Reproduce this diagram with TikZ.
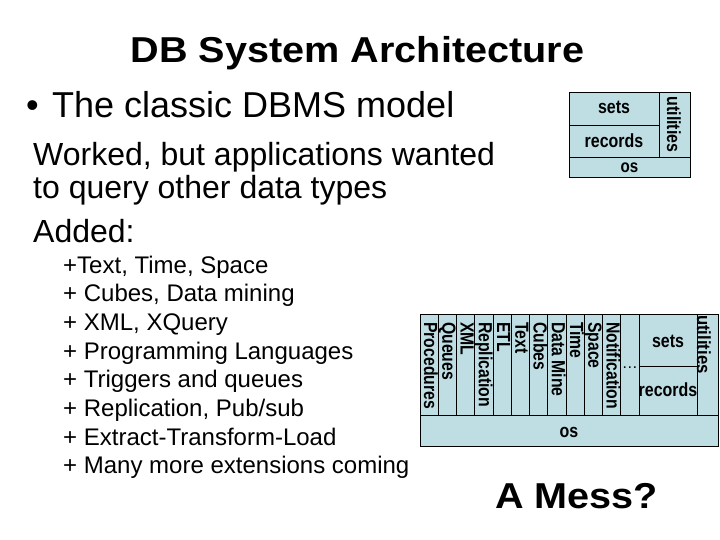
\documentclass[tikz,border=0pt]{standalone}
\usepackage{fontspec}
\setmainfont{Liberation Sans}
\usepackage{tikz}
\usetikzlibrary{positioning}
\definecolor{layerblue}{RGB}{190,222,228}
\newcommand{\narrowtext}[2][0.84]{\scalebox{#1}[1]{#2}}
\newcommand{\widetext}[1]{\scalebox{1.1}[1]{#1}}

\begin{document}
\begin{tikzpicture}[x=1pt,y=-1pt,
  layer/.style={draw=black,line width=0.9pt,fill=layerblue},
  boxlabel/.style={font=\fontsize{19}{22}\selectfont\bfseries,inner sep=0pt},
  extlabel/.style={font=\fontsize{19}{22}\selectfont\bfseries,inner sep=0pt,rotate=-90,anchor=base west},
  slide/.style={anchor=base west,inner sep=0pt}]
\useasboundingbox[fill=white] (0,0) rectangle (720,540);
% headline and text
\node[anchor=base,inner sep=0pt,font=\fontsize{36}{40}\selectfont\bfseries] (title) at (357.5,62.5) {\widetext{DB System Architecture}};
\node[slide,font=\fontsize{36}{40}\selectfont] (bullet) at (26,118) {\textbullet};
\node[slide,font=\fontsize{36}{40}\selectfont] (classic) at (52,118) {The classic DBMS model};
\node[slide,font=\fontsize{32}{36}\selectfont] (worked) at (33,166) {Worked, but applications wanted};
\node[slide,font=\fontsize{32}{36}\selectfont] (query) at (33,199) {to query other data types};
\node[slide,font=\fontsize{32}{36}\selectfont] (added) at (33,242) {Added:};
\foreach \item [count=\i from 0] in {{+Text, Time, Space},{+ Cubes, Data mining},{+ XML, XQuery},{+ Programming Languages},{+ Triggers and queues},{+ Replication, Pub/sub},{+ Extract-Transform-Load},{+ Many more extensions coming}}
  \node[slide,font=\fontsize{24}{28}\selectfont] (add\i) at (63,273+\i*28.7) {\item};
\node[slide,font=\fontsize{36}{40}\selectfont\bfseries] (mess) at (495,508) {\widetext{A Mess?}};
% classic model
\draw[layer] (569,92) rectangle (659,125);
\draw[layer] (569,125) rectangle (659,157);
\draw[layer] (659,92) rectangle (690,157);
\draw[layer] (569,157) rectangle (690,177);
\node[boxlabel,anchor=base] (sets1) at (614,114) {\narrowtext{sets}};
\node[boxlabel,anchor=base] (records1) at (614,147.5) {\narrowtext{records}};
\node[boxlabel,rotate=-90,anchor=base] (util1) at (667,124.5) {\narrowtext{utilities}};
\node[boxlabel,anchor=base,font=\fontsize{18}{21}\selectfont\bfseries] (os1) at (629.5,173) {\narrowtext{os}};
% the mess
\foreach \i in {0,...,11}
  \draw[layer] (420+\i*18.25,314) rectangle (438.25+\i*18.25,415);
\draw[layer] (639,314) rectangle (697,366);
\draw[layer] (639,366) rectangle (697,415);
\draw[layer] (697,314) rectangle (718,415);
\draw[layer] (420,415) rectangle (718,446);
\foreach \ext [count=\i from 0] in {Procedures,Queues,XML,Replication,ETL,Text,Cubes,Data Mine,Time,Space,Notification}
  \node[extlabel] (ext\i) at (424+\i*18.25,322) {\narrowtext[0.83]{\ext}};
\node[boxlabel,font=\fontsize{16}{18}\selectfont] (more) at (629.9,368) {\dots};
\node[boxlabel,anchor=base] (sets2) at (668,347) {\narrowtext{sets}};
\node[boxlabel,anchor=base] (records2) at (668,396.5) {\narrowtext{records}};
\node[extlabel] (util2) at (697,315) {\narrowtext[0.88]{utilities}};
\node[boxlabel,anchor=base] (os2) at (569,437) {\narrowtext{os}};
\end{tikzpicture}
\end{document}
